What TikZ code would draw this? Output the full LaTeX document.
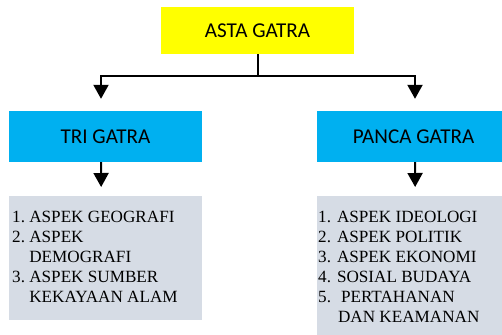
\documentclass[tikz,border=0pt]{standalone}
\usepackage{fontspec}
\setmainfont{Liberation Serif}
\newfontfamily\titlefont{Carlito}
\usetikzlibrary{arrows.meta,calc}
\definecolor{astayellow}{HTML}{FFFF00}
\definecolor{gatrablue}{HTML}{00B0F0}
\definecolor{listgray}{HTML}{D6DCE5}
\begin{document}
\begin{tikzpicture}[x=1bp,y=-1bp,
  titlebox/.style={minimum width=193bp,minimum height=47bp,inner sep=0pt,
    font=\titlefont\fontsize{21.2}{24}\selectfont},
  gatrabox/.style={titlebox,fill=gatrablue,minimum height=51bp},
  listbox/.style={fill=listgray,inner sep=0pt,anchor=north west},
  listtext/.style={anchor=base west,inner sep=0pt,align=left,
    font=\fontsize{17.2}{20}\selectfont},
  link/.style={line width=2bp,-{Triangle[width=15bp,length=14bp]}}]
\useasboundingbox (0,0) rectangle (502,334);
\begin{scope}
\clip (0,0) rectangle (502,334);
% top level
\node[titlebox,fill=astayellow,minimum width=193bp] (asta) at (257.5,30.5) {ASTA GATRA};
% second level
\node[gatrabox] (tri) at (105.5,136.5) {TRI GATRA};
\node[gatrabox] (panca) at (413.5,136.5) {PANCA GATRA};
% list panels
\node[listbox,minimum width=193bp,minimum height=124bp] (trilist) at (9,196) {};
\node[listbox,minimum width=193bp,minimum height=140bp] (pancalist) at (317,196) {};
\end{scope}
% list texts
\node[listtext] (tritext) at (12,222.7) {%
  \begin{tabular}[t]{@{}l@{\hspace{4.3bp}}l@{}}
  1. & ASPEK GEOGRAFI\\
  2. & ASPEK\\
     & DEMOGRAFI\\
  3. & ASPEK SUMBER\\
     & KEKAYAAN ALAM
  \end{tabular}};
\node[listtext] (pancatext) at (318,222.7) {%
  \begin{tabular}[t]{@{}l@{\hspace{6bp}}l@{}}
  1. & ASPEK IDEOLOGI\\
  2. & ASPEK POLITIK\\
  3. & ASPEK EKONOMI\\
  4. & SOSIAL BUDAYA\\
  5. & \hspace{4bp}PERTAHANAN\\
     & \hspace{1bp}DAN KEAMANAN
  \end{tabular}};
% connectors
\coordinate (split) at ($(asta.south)+(0,21.5)$);
\draw[line width=2bp] (asta.south) -- (split);
\draw[link,shorten >=12bp] (split) -| ($(tri.north)+(-4.5,0)$);
\draw[link,shorten >=12bp] (split) -| ($(panca.north)+(1.5,0)$);
\draw[link,shorten >=9bp] ($(tri.south)+(-4.5,0)$) -- ($(trilist.north)+(-4.5,0)$);
\draw[link,shorten >=9bp] ($(panca.south)+(1.5,0)$) -- ($(pancalist.north)+(1.5,0)$);
\end{tikzpicture}
\end{document}
